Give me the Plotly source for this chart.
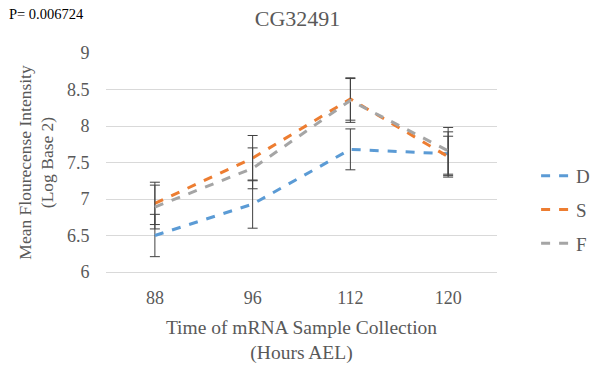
import plotly.graph_objects as go

categories = ["88", "96", "112", "120"]
series_names = ["D", "S", "F"]
d_values = [6.50, 6.93, 7.68, 7.62]
s_values = [6.94, 7.56, 8.37, 7.58]
f_values = [6.89, 7.42, 8.35, 7.66]
d_errors = [0.29, 0.33, 0.28, 0.30]
s_errors = [0.29, 0.31, 0.29, 0.28]
f_errors = [0.30, 0.28, 0.30, 0.32]
colors = ["#5B9BD5", "#ED7D31", "#A5A5A5"]
y_ticks = [6, 6.5, 7, 7.5, 8, 8.5, 9]

FONT = "Liberation Serif, Times New Roman, serif"
GRAY = "#595959"

fig = go.Figure()
for i, (name, vals, errs) in enumerate(zip(series_names, [d_values, s_values, f_values],
                                          [d_errors, s_errors, f_errors])):
    fig.add_trace(go.Scatter(
        x=categories, y=vals, name=name, mode="lines",
        line=dict(color=colors[i], width=3, dash="dash"),
        error_y=dict(type="data", array=errs, visible=True, color="#404040",
                     thickness=1, width=5),
        legendgroup=name,
    ))

fig.update_layout(
    width=595, height=369,
    margin=dict(l=106, r=98, t=53, b=97, autoexpand=False),
    paper_bgcolor="white", plot_bgcolor="white",
    font=dict(family=FONT, color=GRAY, size=17),
    title=dict(text="CG32491", x=0.5, xanchor="center", y=0.95, yanchor="middle",
               font=dict(size=22, color=GRAY, family=FONT)),
    showlegend=True,
    legend=dict(x=1.10, xanchor="left", y=0.283, yanchor="middle",
                traceorder="grouped", tracegroupgap=6,
                font=dict(size=19, color=GRAY, family=FONT),
                bgcolor="rgba(0,0,0,0)"),
    xaxis=dict(type="category", categoryorder="array", categoryarray=categories,
               range=[-0.5, 3.5], automargin=False,
               showgrid=False, showline=True, linecolor="#d9d9d9", linewidth=1,
               ticks="outside", ticklen=9, tickcolor="rgba(0,0,0,0)",
               tickfont=dict(size=18, color=GRAY, family=FONT),
               title=dict(text="Time of mRNA Sample Collection<br>(Hours AEL)",
                          font=dict(size=19.5, color=GRAY, family=FONT), standoff=13)),
    yaxis=dict(range=[6, 9], tickvals=y_ticks, ticktext=[str(v) for v in y_ticks],
               automargin=False,
               showgrid=True, gridcolor="#d9d9d9", gridwidth=1,
               zeroline=False, showline=False,
               ticks="outside", ticklen=12, tickcolor="rgba(0,0,0,0)",
               tickfont=dict(size=18, color=GRAY, family=FONT),
               title=dict(text="Mean Flourecense Intensity<br>(Log Base 2)",
                          font=dict(size=17.5, color=GRAY, family=FONT), standoff=8)),
    annotations=[dict(text="P= 0.006724", xref="paper", yref="paper",
                      x=-0.252, y=1.178, xanchor="left", yanchor="middle",
                      showarrow=False, font=dict(size=14.5, color="black", family=FONT))],
)

fig.write_html("out.html")
